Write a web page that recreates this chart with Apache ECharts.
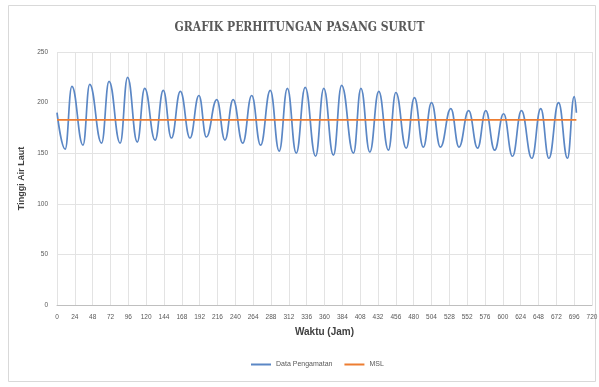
<!DOCTYPE html>
<html>
<head>
<meta charset="utf-8">
<script src="https://cdn.jsdelivr.net/npm/echarts@6/dist/echarts.min.js"></script>
<style>
html,body{margin:0;padding:0;background:#fff;}
#c{width:599px;height:387px;}
</style>
</head>
<body>
<div id="c"></div>
<script>
const hours = [0, 11, 20, 35, 44, 60, 70, 85, 95, 108,
  118, 132, 143, 154, 166, 179, 191, 201, 215, 226,
  237, 250, 262, 274, 287, 299, 310, 322, 334, 348,
  359, 372, 383, 399, 409, 421, 433, 446, 456, 470,
  481, 493, 504, 516, 530, 541, 554, 566, 577, 589,
  601, 613, 625, 639, 651, 662, 675, 687, 696, 699];
const levels = [190, 154, 216, 158, 218, 160, 221, 160, 225, 161,
  214, 163, 212, 165, 211, 165, 207, 166, 203, 163,
  203, 160, 207, 158, 212, 152, 214, 150, 215, 147,
  214, 148, 217, 150, 214, 151, 211, 153, 210, 155,
  205, 156, 200, 156, 194, 156, 192, 155, 192, 153,
  189, 147, 192, 145, 194, 145, 200, 145, 206, 190];
const mslHours = [0, 699];
const mslLevel = 183;
const xTicks = {min: 0, max: 720, interval: 24};
const yTicks = {min: 0, max: 250, interval: 50};
const titleText = 'GRAFIK PERHITUNGAN PASANG SURUT';
const seriesNames = ['Data Pengamatan', 'MSL'];

const chart = echarts.init(document.getElementById('c'), null, {renderer: 'canvas'});
chart.setOption({
  backgroundColor: '#fff',
  animation: false,
  title: {
    text: titleText, left: 'center', top: 17,
    textStyle: {fontFamily: 'DejaVu Serif Condensed', fontWeight: 'bold', fontSize: 12, color: '#595959'}
  },
  graphic: [{type: 'rect', shape: {x: 8.5, y: 5.5, width: 587, height: 376},
    style: {fill: 'none', stroke: '#d9d9d9', lineWidth: 1}, silent: true}],
  legend: {
    bottom: 14, left: 246, itemWidth: 20, itemHeight: 2, itemGap: 12, icon: 'rect',
    textStyle: {fontFamily: 'Liberation Sans', fontSize: 7, color: '#595959'},
    data: seriesNames
  },
  grid: {left: 57, right: 7, top: 52, bottom: 82, containLabel: false, outerBoundsMode: 'none'},
  xAxis: {
    type: 'value', min: xTicks.min, max: xTicks.max, interval: xTicks.interval,
    name: 'Waktu (Jam)', nameLocation: 'middle', nameGap: 22,
    nameTextStyle: {fontFamily: 'Liberation Sans', fontWeight: 'bold', fontSize: 10, color: '#404040'},
    axisLine: {lineStyle: {color: '#bfbfbf'}},
    axisTick: {show: false},
    axisLabel: {fontFamily: 'Liberation Sans', fontSize: 6.5, color: '#595959', margin: 9},
    splitLine: {show: true, lineStyle: {color: '#e3e3e3'}}
  },
  yAxis: {
    type: 'value', min: yTicks.min, max: yTicks.max, interval: yTicks.interval,
    name: 'Tinggi Air Laut', nameLocation: 'middle', nameGap: 27, nameRotate: 90,
    nameTextStyle: {fontFamily: 'Liberation Sans', fontWeight: 'bold', fontSize: 9, color: '#404040'},
    axisLine: {show: false}, axisTick: {show: false},
    axisLabel: {fontFamily: 'Liberation Sans', fontSize: 6.5, color: '#595959', margin: 9},
    splitLine: {show: true, lineStyle: {color: '#e3e3e3'}}
  },
  series: [
    {name: seriesNames[0], type: 'line', smooth: 0.45, smoothMonotone: 'x', showSymbol: false,
     data: hours.map((h, i) => [h, levels[i]]),
     lineStyle: {color: '#5b87c5', width: 1.7}, itemStyle: {color: '#5b87c5'}},
    {name: seriesNames[1], type: 'line', showSymbol: false,
     data: mslHours.map(h => [h, mslLevel]),
     lineStyle: {color: '#ed7d31', width: 1.8}, itemStyle: {color: '#ed7d31'}}
  ]
});
</script>
</body>
</html>
